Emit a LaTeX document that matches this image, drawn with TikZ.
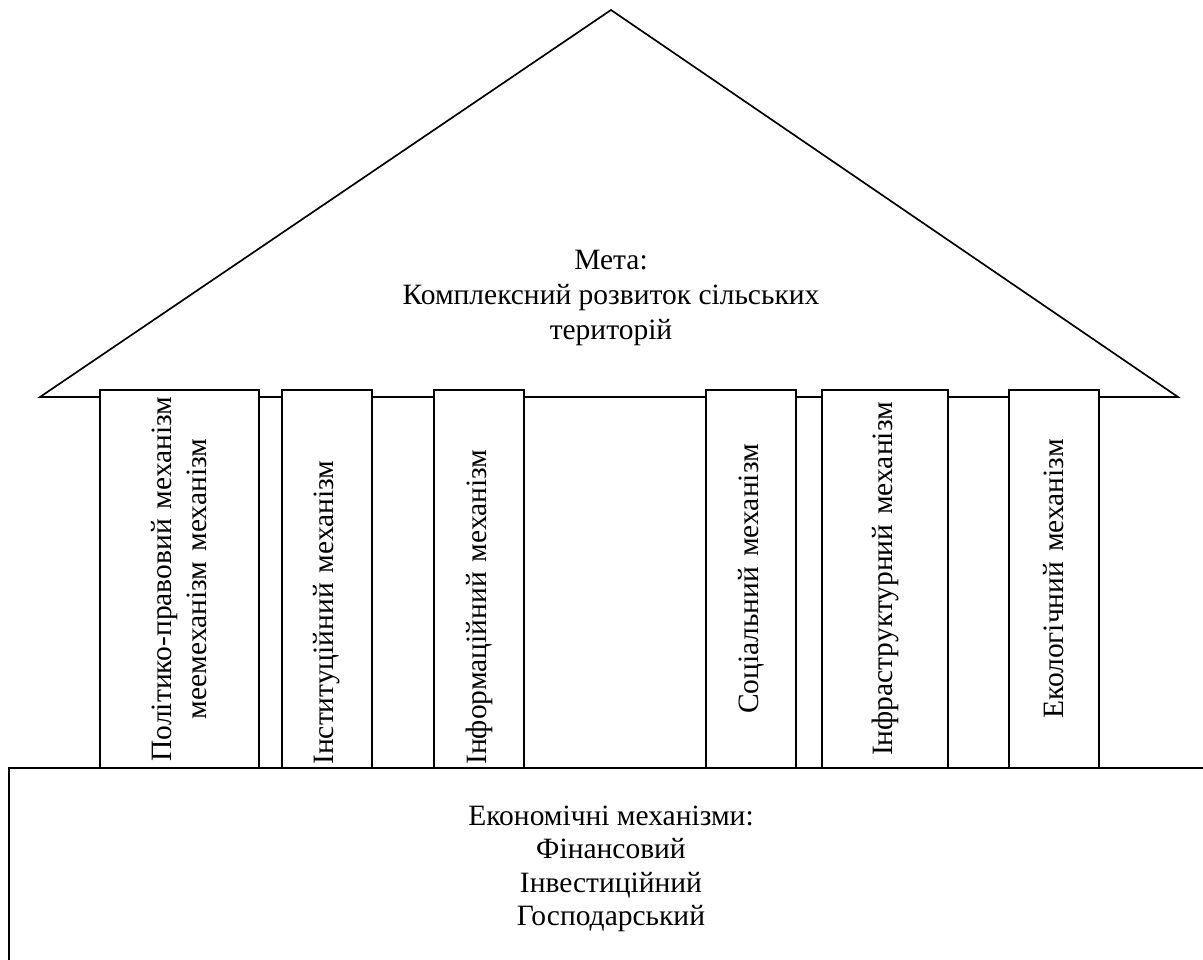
\documentclass[tikz,border=0pt]{standalone}
\usepackage{fontspec}
\setmainfont{Liberation Serif}

\tikzset{
  pillar/.style={draw, fill=white, line width=0.8pt, rotate=90,
    minimum width=226.8pt, inner sep=2pt, text width=222.8pt,
    font=\fontsize{17.7}{21}\selectfont},
  label/.style={align=center, inner sep=0pt, font=\fontsize{17.7}{21}\selectfont}
}

\begin{document}
\begin{tikzpicture}[x=0.6pt, y=-0.6pt]
        \useasboundingbox (0,0) rectangle (1203,960);
        \clip (0,0) rectangle (1203,960);

        % roof
        \draw [line width=1pt, line join=miter] (40,397) -- (611,10) -- (1178,397) -- cycle;
        \node [label] (goal) at (611,298) {Мета:\\Комплексний розвиток сільських\\територій};

        % pillars
        \node [pillar, minimum height=95.4pt, align=center] (pol) at (179.5,579)
            {Політико-правовий механізм\\меемеханізм механізм};
        \node [pillar, minimum height=54pt, align=left] (inst) at (327,579) {Інституційний механізм};
        \node [pillar, minimum height=54pt, align=left] (inform) at (479,579) {Інформаційний механізм};
        \node [pillar, minimum height=54pt, align=center] (soc) at (751,579) {Соціальний механізм};
        \node [pillar, minimum height=75.6pt, align=center] (infra) at (885,579) {Інфраструктурний механізм};
        \node [pillar, minimum height=54pt, align=center] (eco) at (1054,579) {Екологічний механізм};

        % base
        \draw [line width=1pt] (9,980) -- (9,768) -- (1220,768);
        \node [label, font=\fontsize{17.7}{20.1}\selectfont] (econ) at (611,869)
            {Економічні механізми:\\Фінансовий\\Інвестиційний\\Господарський};
\end{tikzpicture}
\end{document}
